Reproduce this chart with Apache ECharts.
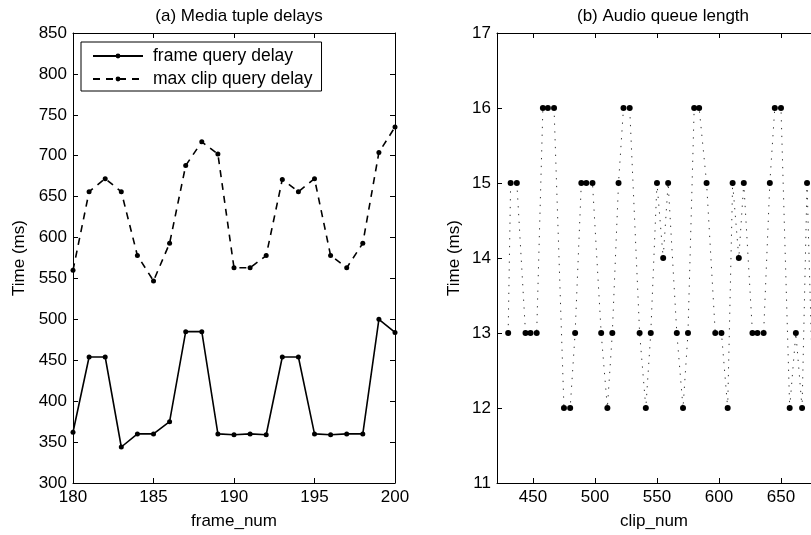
<!DOCTYPE html>
<html>
<head>
<meta charset="utf-8">
<script src="https://cdn.jsdelivr.net/npm/echarts@6/dist/echarts.min.js"></script>
<style>html,body{margin:0;padding:0;background:#fff}#c{width:811px;height:535px}</style>
</head>
<body>
<div id="c"></div>
<script>
// ---- Data ----
const frameNum = [180,181,182,183,184,185,186,187,188,189,190,191,192,193,194,195,196,197,198,199,200];
const frameQueryDelay = [362,454,454,344,360,360,375,485,485,360,359,360,359,454,454,360,359,360,360,500,484];
const maxClipQueryDelay = [560,656,672,656,578,547,593,688,717,702,563,563,578,671,656,672,578,563,593,704,735];

const clipNum = [430,432,437,444,448,453,458,462,467,475,480,484,489,493,498,505,510,514,519,523,528,536,541,545,550,555,559,566,571,575,580,584,590,597,602,607,611,616,620,627,631,636,641,645,650,657,662,667,671,676];
const queueLen = [13,15,15,13,13,13,16,16,16,12,12,13,15,15,15,13,12,13,15,16,16,13,12,13,15,14,15,13,12,13,16,16,15,13,13,12,15,14,15,13,13,13,15,16,16,12,13,12,15,12];

const rightXTicks = [450,500,550,600,650];

const FONT = 'Liberation Sans, Arial, Helvetica, sans-serif';
const FS = 17;
const lbl = {color:'#000', fontFamily:FONT, fontSize:FS};

const chart = echarts.init(document.getElementById('c'), null, {renderer:'canvas'});

function boxAxis(base, extra){ return Object.assign({
  axisLine:{show:true, onZero:false, lineStyle:{color:'#000', width:1}},
  axisTick:{show:true, inside:true, length:5, lineStyle:{color:'#000', width:1}},
  splitLine:{show:false},
}, base, extra); }

const option = {
  animation:false,
  backgroundColor:'#fff',
  title:[
    {text:'(a) Media tuple delays', left:234, top:3, textAlign:'center', textStyle:{fontFamily:FONT, fontSize:FS, fontWeight:'normal', color:'#000'}},
    {text:'(b) Audio queue length', left:658, top:3, textAlign:'center', textStyle:{fontFamily:FONT, fontSize:FS, fontWeight:'normal', color:'#000'}}
  ],
  grid:[
    {left:73, top:33, width:322, height:454},
    {left:497, top:33, right:0, height:454}
  ],
  legend:{
    data:['frame query delay','max clip query delay'],
    orient:'vertical', left:81, top:42,
    padding:[5,9,3,11],
    itemWidth:50, itemHeight:6, itemGap:5,
    borderColor:'#000', borderWidth:1, backgroundColor:'#fff',
    textStyle:{fontFamily:FONT, fontSize:17.5, color:'#000', padding:[0,0,0,5]}
  },
  xAxis:[
    boxAxis({gridIndex:0, type:'value', min:180, max:200, interval:5, position:'bottom',
      name:'frame_num', nameLocation:'middle', nameGap:30, nameTextStyle:lbl,
      axisLabel:Object.assign({margin:6}, lbl)}),
    boxAxis({gridIndex:0, type:'value', min:180, max:200, interval:5, position:'top', axisLabel:{show:false}}),
    boxAxis({gridIndex:1, type:'value', min:421, max:674.2, position:'bottom',
      name:'clip_num', nameLocation:'middle', nameGap:30, nameTextStyle:lbl,
      axisTick:{show:true, inside:true, length:5, customValues:rightXTicks, lineStyle:{color:'#000', width:1}},
      axisLabel:Object.assign({margin:6, customValues:rightXTicks}, lbl)}),
    boxAxis({gridIndex:1, type:'value', min:421, max:674.2, position:'top',
      axisTick:{show:true, inside:true, length:5, customValues:rightXTicks, lineStyle:{color:'#000', width:1}},
      axisLabel:{show:false}})
  ],
  yAxis:[
    boxAxis({gridIndex:0, type:'value', min:300, max:850, interval:50, position:'left',
      name:'Time (ms)', nameLocation:'middle', nameGap:45, nameTextStyle:lbl,
      axisLabel:Object.assign({margin:6}, lbl)}),
    boxAxis({gridIndex:0, type:'value', min:300, max:850, interval:50, position:'right', axisLabel:{show:false}}),
    boxAxis({gridIndex:1, type:'value', min:11, max:17, interval:1, position:'left',
      name:'Time (ms)', nameLocation:'middle', nameGap:34, nameTextStyle:lbl,
      axisLabel:Object.assign({margin:6}, lbl)}),
    {gridIndex:1, type:'value', min:11, max:17, interval:1, position:'right', show:false}
  ],
  series:[
    {name:'frame query delay', type:'line', xAxisIndex:0, yAxisIndex:0,
      data:frameNum.map((x,i)=>[x, frameQueryDelay[i]]),
      symbol:'circle', symbolSize:5, showSymbol:true,
      lineStyle:{color:'#000', width:1.6, type:'solid'}, itemStyle:{color:'#000'}},
    {name:'max clip query delay', type:'line', xAxisIndex:0, yAxisIndex:0,
      data:frameNum.map((x,i)=>[x, maxClipQueryDelay[i]]),
      symbol:'circle', symbolSize:5, showSymbol:true,
      lineStyle:{color:'#000', width:1.6, type:[7,6]}, itemStyle:{color:'#000'}},
    {name:'queue', type:'line', xAxisIndex:2, yAxisIndex:2,
      data:clipNum.map((x,i)=>[x, queueLen[i]]),
      symbol:'circle', symbolSize:6, showSymbol:true, clip:true,
      lineStyle:{color:'#333', width:1, type:[1.3,6.5]}, itemStyle:{color:'#000'}}
  ]
};
chart.setOption(option);
</script>
</body>
</html>
